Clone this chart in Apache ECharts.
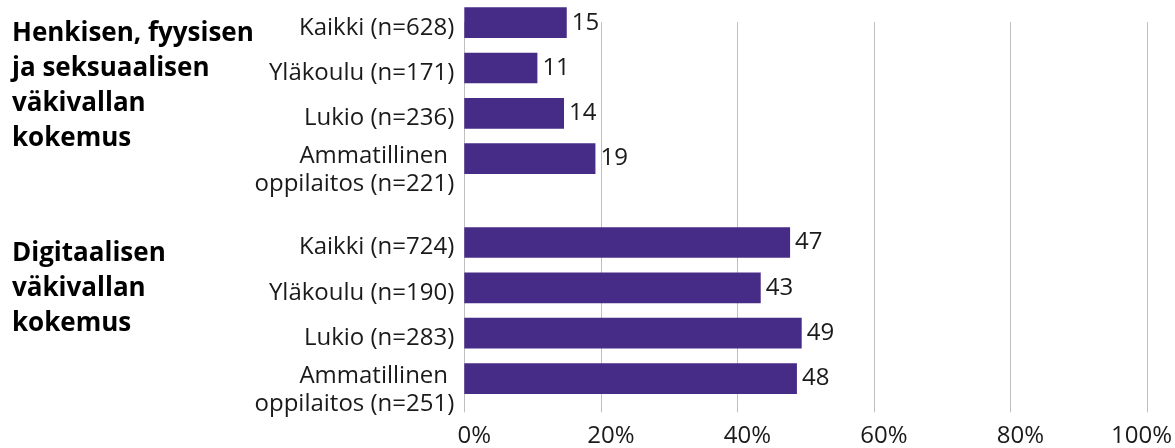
<!DOCTYPE html>
<html>
<head>
<meta charset="utf-8">
<script src="https://cdn.jsdelivr.net/npm/echarts@6/dist/echarts.min.js"></script>
<style>
html,body{margin:0;padding:0;background:#fff;}
#chart{width:1175px;height:448px;}
</style>
</head>
<body>
<div id="chart"></div>
<script>
// ---- data ----
const groupTitles = ['Henkisen, fyysisen\nja seksuaalisen\nväkivallan\nkokemus', 'Digitaalisen\nväkivallan\nkokemus'];
const categories1 = ['Kaikki (n=628)', 'Yläkoulu (n=171)', 'Lukio (n=236)', 'Ammatillinen \noppilaitos (n=221)'];
const values1 = [15.0, 10.7, 14.6, 19.2];          // bar lengths as drawn in the picture
const valueLabels1 = ['15', '11', '14', '19'];     // value labels as printed in the picture
const categories2 = ['Kaikki (n=724)', 'Yläkoulu (n=190)', 'Lukio (n=283)', 'Ammatillinen \noppilaitos (n=251)'];
const values2 = [47.7, 43.4, 49.4, 48.7];
const valueLabels2 = ['47', '43', '49', '48'];
const xTicks = [0, 20, 40, 60, 80, 100];

// ---- chart ----
const FONT = '"Open Sans", "Noto Sans", sans-serif';
const TXT = '#1a1a1a';
const BAR = '#462c87';
const GRID_L = 464.3, GRID_R = 1175 - 1147.3;
const chart = echarts.init(document.getElementById('chart'), null, {renderer: 'canvas'});

function catLabel(v) {
  if (v.indexOf('\n') >= 0) {
    const parts = v.split('\n');
    return '{gap| }\n' + parts.map(p => '{m|' + p + '}').join('\n');
  }
  return '{s|' + v + '}';
}
function catAxis(cats, gi) {
  return {
    type: 'category', gridIndex: gi, inverse: true, data: cats,
    axisLine: {show: false}, axisTick: {show: false},
    axisLabel: {
      interval: 0, hideOverlap: false, showMinLabel: true, showMaxLabel: true,
      fontFamily: FONT, fontSize: 24, color: TXT, margin: 10, align: 'right',
      padding: [10, 0, 0, 0],
      formatter: catLabel,
      rich: {
        s: {fontFamily: FONT, fontSize: 24, color: TXT, lineHeight: 28},
        m: {fontFamily: FONT, fontSize: 24, color: TXT, lineHeight: 28},
        gap: {fontSize: 8, lineHeight: 13.6}
      }
    }
  };
}
function hiddenX(gi) {
  return {type: 'value', gridIndex: gi, min: xTicks[0], max: xTicks[xTicks.length - 1], interval: 20,
    axisLine: {show: false}, axisTick: {show: false}, axisLabel: {show: false}, splitLine: {show: false}};
}
function barSeries(vals, labels, gi) {
  return {
    type: 'bar', xAxisIndex: gi, yAxisIndex: gi, data: vals, barWidth: 30.7,
    itemStyle: {color: BAR},
    label: {show: true, position: 'right', distance: 5, fontFamily: FONT, fontSize: 24, color: TXT,
      formatter: p => labels[p.dataIndex]},
    z: 3
  };
}

const option = {
  backgroundColor: '#fff',
  animation: false,
  grid: [
    {left: GRID_L, right: GRID_R, top: -1.5, height: 182.8},
    {left: GRID_L, right: GRID_R, top: 219.8, height: 181.4},
    {left: GRID_L, right: GRID_R, top: 22, bottom: 35.7},
    {left: GRID_L + 10, right: GRID_R - 10, top: 22, bottom: 35.7}
  ],
  xAxis: [
    hiddenX(0), hiddenX(1),
    {type: 'value', gridIndex: 2, min: xTicks[0], max: xTicks[xTicks.length - 1], interval: 20,
      axisLine: {show: false}, axisTick: {show: false}, axisLabel: {show: false},
      splitLine: {show: true, lineStyle: {color: '#bfbfbf', width: 1}}},
    {type: 'value', gridIndex: 3, min: xTicks[0], max: xTicks[xTicks.length - 1], interval: 20,
      axisLine: {show: false}, axisTick: {show: false}, splitLine: {show: false},
      axisLabel: {fontFamily: FONT, fontSize: 24, color: TXT, margin: 14,
        formatter: v => v === xTicks[xTicks.length - 1] ? '{r|' + v + '%}' : v + '%',
        rich: {r: {fontFamily: FONT, fontSize: 24, color: TXT, padding: [0, 31, 0, 0]}}}}
  ],
  yAxis: [
    catAxis(categories1, 0), catAxis(categories2, 1),
    {type: 'value', gridIndex: 2, min: 0, max: 1, show: false, splitLine: {show: false}},
    {type: 'value', gridIndex: 3, min: 0, max: 1, show: false, splitLine: {show: false}}
  ],
  series: [barSeries(values1, valueLabels1, 0), barSeries(values2, valueLabels2, 1)],
  graphic: [
    {type: 'text', left: 12, top: 16, style: {text: groupTitles[0], font: 'bold 26px ' + FONT, fill: '#000', lineHeight: 35}},
    {type: 'text', left: 12, top: 236, style: {text: groupTitles[1], font: 'bold 26px ' + FONT, fill: '#000', lineHeight: 35}}
  ]
};
chart.setOption(option);
</script>
</body>
</html>
